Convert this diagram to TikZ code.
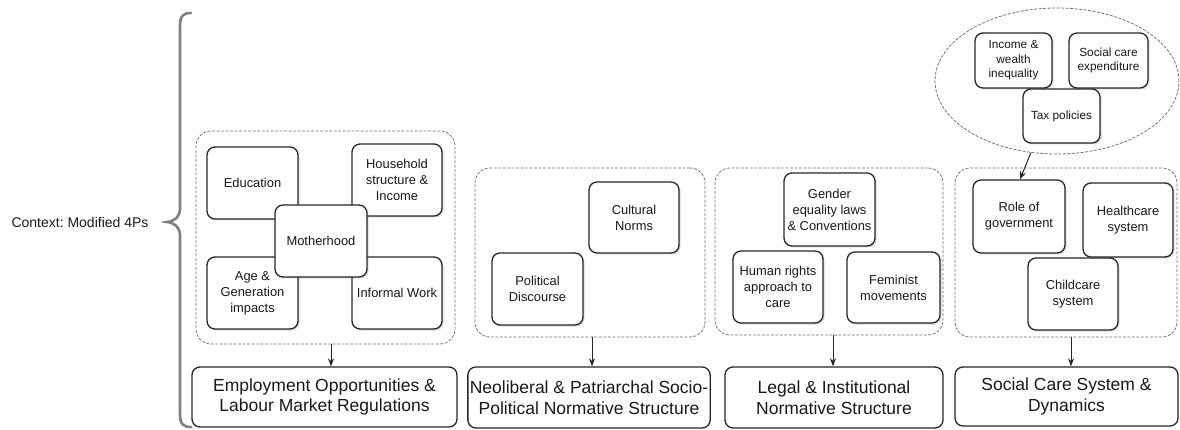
\documentclass[tikz,border=0pt]{standalone}
\usepackage{fontspec}
\setmainfont{Liberation Sans}
\usetikzlibrary{shapes.geometric,shadows,arrows.meta}
\frenchspacing
\begin{document}
\begin{tikzpicture}[x=1pt,y=-1pt,
  sbox/.style={draw=black!85,line width=1.3pt,rounded corners=8pt,fill=white,align=center,
    inner sep=2pt,text=black!90,font=\fontsize{12.9}{16}\selectfont,
    drop shadow={shadow xshift=1.5pt,shadow yshift=-1.5pt,opacity=0.3}},
  ebox/.style={sbox,font=\fontsize{11.8}{14.5}\selectfont},
  grp/.style={draw=black!55,line width=0.8pt,dash pattern=on 3pt off 1.5pt,rounded corners=15pt,inner sep=0pt},
  bbox/.style={draw=black!85,line width=1.3pt,rounded corners=8pt,fill=white,align=center,
    inner sep=2pt,text=black!90,font=\fontsize{17.5}{20.5}\selectfont},
  arr/.style={draw=black!85,line width=1pt,-{Stealth[length=8pt,width=6pt]}}
]
\useasboundingbox (0,0) rectangle (1180,430);

% brace and context label
\draw[black!50,line width=2.6pt,line cap=round]
  (191,13) .. controls (183,13) and (180,16) .. (180,26)
  -- (180,208) .. controls (180,217) and (175,221) .. (167,222)
  .. controls (175,223) and (180,227) .. (180,236)
  -- (180,414) .. controls (180,424) and (183,427) .. (191,427);
\node[font=\fontsize{14}{16}\selectfont,text=black!90] (ctx) at (80,222) {Context: Modified 4Ps};

% group 1
\node[grp,minimum width=259pt,minimum height=213pt] (g1) at (325.5,237.5) {};
\node[sbox,minimum width=91pt,minimum height=72pt] (edu) at (252.5,183) {Education};
\node[sbox,minimum width=90pt,minimum height=72pt] (hh) at (397,180) {Household\\structure \&\\Income};
\node[sbox,minimum width=91pt,minimum height=72pt] (age) at (252.5,293) {Age \&\\Generation\\impacts};
\node[sbox,minimum width=90pt,minimum height=72pt] (inf) at (397,293) {Informal Work};
\node[sbox,minimum width=92pt,minimum height=72pt] (moth) at (321,241) {Motherhood};
\node[bbox,minimum width=265pt,minimum height=60pt] (b1) at (324.5,397) {Employment Opportunities \&\\Labour Market Regulations};
\draw[arr] ([xshift=5.5pt]g1.south) -- ([xshift=5.5pt]g1.south |- b1.north);

% group 2
\node[grp,minimum width=230pt,minimum height=169pt] (g2) at (590,252.5) {};
\node[sbox,minimum width=90pt,minimum height=71pt] (cult) at (634,217.5) {Cultural\\Norms};
\node[sbox,minimum width=91pt,minimum height=72pt] (pol) at (537.5,289) {Political\\Discourse};
\node[bbox,minimum width=240pt,minimum height=61pt] (b2) at (589,397.5) {Neoliberal \& Patriarchal Socio-\\Political Normative Structure};
\draw[arr] ([xshift=2pt]g2.south) -- ([xshift=2pt]g2.south |- b2.north);

% group 3
\node[grp,minimum width=228pt,minimum height=167pt] (g3) at (829,251.5) {};
\node[sbox,minimum width=91pt,minimum height=73pt] (gen) at (829.5,209.5) {Gender\\equality laws\\\& Conventions};
\node[sbox,minimum width=90pt,minimum height=72pt] (hum) at (778,287) {Human rights\\approach to\\care};
\node[sbox,minimum width=93pt,minimum height=71pt] (fem) at (893.5,287.5) {Feminist\\movements};
\node[bbox,minimum width=218pt,minimum height=61pt] (b3) at (834,397.5) {Legal \& Institutional\\Normative Structure};
\draw[arr] ([xshift=4pt]g3.south) -- ([xshift=4pt]g3.south |- b3.north);

% group 4
\node[grp,minimum width=222pt,minimum height=169pt] (g4) at (1066,252.5) {};
\node[sbox,minimum width=92pt,minimum height=73pt] (role) at (1019,216.5) {Role of\\government};
\node[sbox,minimum width=90pt,minimum height=74pt] (hc) at (1128,220) {Healthcare\\system};
\node[sbox,minimum width=90pt,minimum height=72pt] (cc) at (1073,294) {Childcare\\system};
\node[bbox,minimum width=223pt,minimum height=59pt] (b4) at (1066.5,396.5) {Social Care System \&\\Dynamics};
\draw[arr] ([xshift=5pt]g4.south) -- ([xshift=5pt]g4.south |- b4.north);

% ellipse
\node[ellipse,draw=black!55,line width=0.8pt,dash pattern=on 3pt off 1.5pt,inner sep=0pt,
  minimum width=244pt,minimum height=146pt] (ell) at (1057,81) {};
\node[ebox,minimum width=77pt,minimum height=55pt] (inc) at (1013.5,60.5) {Income \&\\wealth\\inequality};
\node[ebox,minimum width=79pt,minimum height=55pt] (sce) at (1108.5,60.5) {Social care\\expenditure};
\node[ebox,minimum width=77pt,minimum height=54pt] (tax) at (1061.5,116) {Tax policies};
\draw[arr] (ell.250) -- ([xshift=1pt]role.north);
\end{tikzpicture}
\end{document}
